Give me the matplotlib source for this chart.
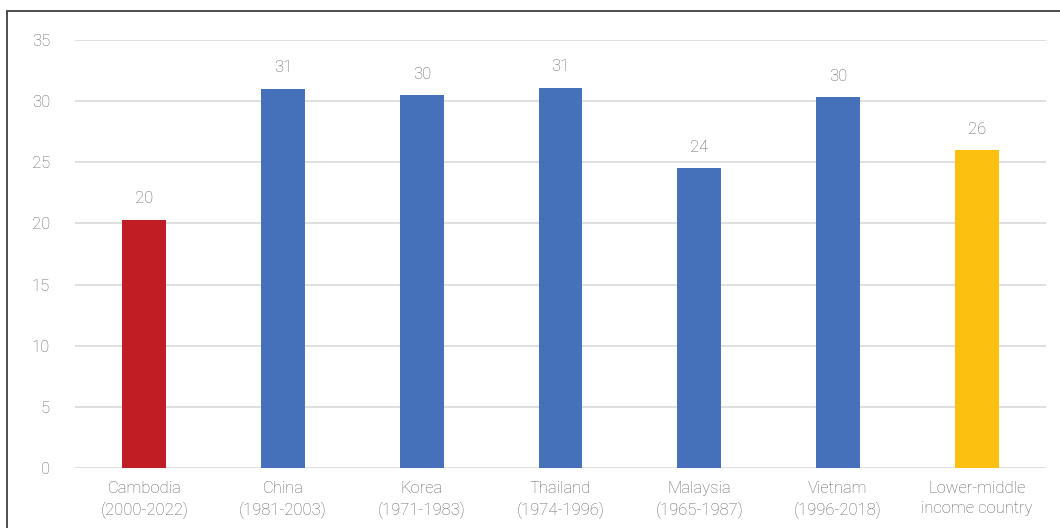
import matplotlib.pyplot as plt
from matplotlib.patches import Rectangle

plt.rcParams["font.family"] = ["Roboto", "DejaVu Sans"]
plt.rcParams["font.weight"] = "light"

categories = ["Cambodia\n(2000-2022)", "China\n(1981-2003)", "Korea\n(1971-1983)",
              "Thailand\n(1974-1996)", "Malaysia\n(1965-1987)", "Vietnam\n(1996-2018)",
              "Lower-middle\nincome country"]
values = [20.3, 31.0, 30.5, 31.1, 24.5, 30.3, 26.0]
labels = ["20", "31", "30", "31", "24", "30", "26"]
colors = ["#C01D24", "#4571BA", "#4571BA", "#4571BA", "#4571BA", "#4571BA", "#FCC010"]

fig = plt.figure(figsize=(10.6, 5.28), dpi=100)
ax = fig.add_axes([75 / 1060, 0.1136, 971 / 1060, 0.8106])

# frame around the figure (cut off at right/bottom)
fig.patches.append(Rectangle((7 / 1060, -0.1), 1.2, 1 - 11 / 528 + 0.1,
                             transform=fig.transFigure, fill=False,
                             edgecolor="#404040", linewidth=1.3))

x = list(range(len(categories)))
ax.bar(x, values, width=0.317, color=colors, zorder=3)
for a, b, t in zip(x, values, labels):
    ax.text(a, b + 1.1, t, ha="center", va="bottom", fontsize=12, color="#646464")

ax.set_ylim(0, 35)
ax.set_xlim(-0.5, len(categories) - 0.5)
ax.set_yticks(range(0, 36, 5))
ax.yaxis.grid(True, color="#d9d9d9", linewidth=1.2)
ax.set_axisbelow(True)
for s in ax.spines.values():
    s.set_visible(False)
ax.tick_params(length=0, labelsize=12, labelcolor="#646464")
ax.tick_params(axis="y", pad=18)
ax.tick_params(axis="x", pad=9)
ax.set_xticks(x)
ax.set_xticklabels(categories, linespacing=1.45)

fig.savefig("out.png", dpi=100)
